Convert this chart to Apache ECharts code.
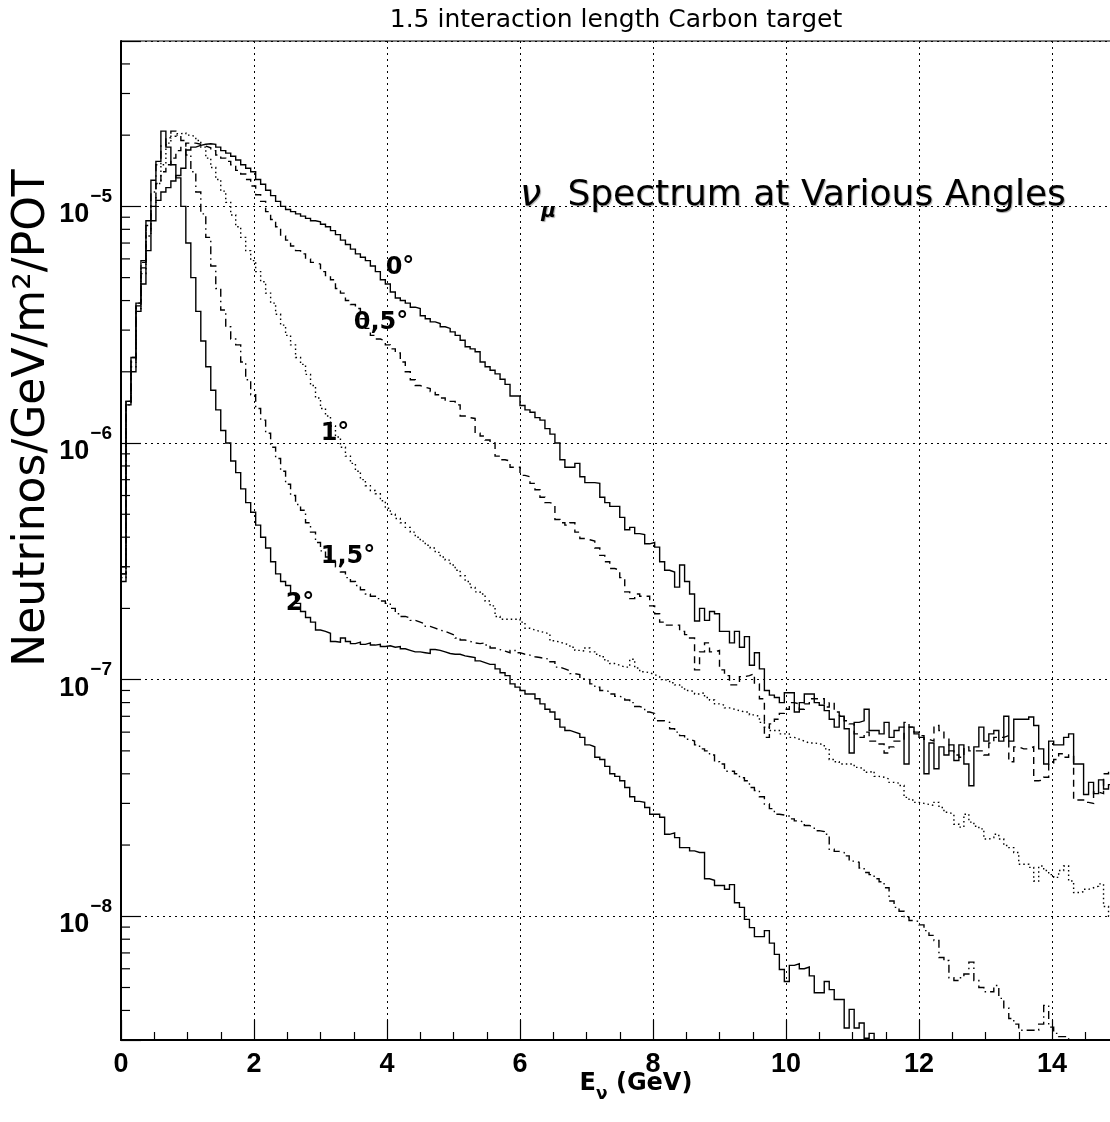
<!DOCTYPE html>
<html><head><meta charset="utf-8">
<script src="https://cdn.jsdelivr.net/npm/echarts@6/dist/echarts.min.js"></script>
<style>html,body{margin:0;padding:0;background:#fff}#c{width:1110px;height:1122px}</style>
</head><body><div id="c"></div>
<script>
// ---- binning (GeV) and axis values ----
const BIN_WIDTH = 0.075;
const X_MIN = 0, X_MAX = 16, X_TICK_INTERVAL = 2;
const Y_MIN = 3e-9, Y_MAX = 5e-5;
const MINOR_MANTISSAS = [2, 3, 4, 5, 6, 7, 8, 9];
const MINOR_DECADES = [1e-9, 1e-8, 1e-7, 1e-6, 1e-5];

const TITLE = '1.5 interaction length Carbon target';
const Y_TITLE = 'Neutrinos/GeV/m²/POT';
const ANGLE_LABELS = ['0°', '0,5°', '1°', '1,5°', '2°'];

// ---- neutrino flux per bin (Neutrinos/GeV/m^2/POT), 0.075 GeV bins ----
const flux0 = [
3.0e-7,1.45e-6,2.0e-6,3.6e-6,4.7e-6,6.5e-6,8.7e-6,1.06e-5,1.15e-5,1.2e-5,
1.28e-5,1.35e-5,1.45e-5,1.73e-5,1.78e-5,1.81e-5,1.83e-5,1.84e-5,1.83e-5,1.78e-5,
1.72e-5,1.68e-5,1.63e-5,1.57e-5,1.5e-5,1.45e-5,1.4e-5,1.3e-5,1.24e-5,1.17e-5,
1.11e-5,1.05e-5,1.0e-5,9.7e-6,9.5e-6,9.3e-6,9.1e-6,8.9e-6,8.7e-6,8.6e-6,
8.4e-6,8.2e-6,7.9e-6,7.6e-6,7.2e-6,6.9e-6,6.6e-6,6.3e-6,6.1e-6,5.9e-6,
5.6e-6,5.3e-6,4.9e-6,4.7e-6,4.35e-6,4.1e-6,4.0e-6,3.9e-6,3.75e-6,3.7e-6,
3.45e-6,3.35e-6,3.25e-6,3.2e-6,3.1e-6,3.05e-6,2.95e-6,2.85e-6,2.72e-6,2.55e-6,
2.5e-6,2.43e-6,2.2e-6,2.1e-6,2.03e-6,1.96e-6,1.86e-6,1.77e-6,1.58e-6,1.58e-6,
1.44e-6,1.38e-6,1.35e-6,1.28e-6,1.25e-6,1.15e-6,1.09e-6,1.0e-6,8.5e-7,7.9e-7,
7.9e-7,8.2e-7,7.2e-7,6.8e-7,6.8e-7,6.75e-7,5.9e-7,5.6e-7,5.4e-7,5.4e-7,
4.85e-7,4.3e-7,4.4e-7,4.14e-7,4.1e-7,3.75e-7,3.8e-7,3.63e-7,3.15e-7,2.9e-7,
2.85e-7,2.46e-7,3.05e-7,2.6e-7,2.3e-7,1.77e-7,2.0e-7,1.78e-7,1.94e-7,1.9e-7,
1.6e-7,1.6e-7,1.43e-7,1.6e-7,1.37e-7,1.52e-7,1.15e-7,1.3e-7,1.11e-7,9.0e-8,
8.6e-8,8.4e-8,8.0e-8,8.8e-8,8.8e-8,7.3e-8,8.0e-8,8.7e-8,8.7e-8,8.0e-8,
7.8e-8,7.4e-8,6.8e-8,6.3e-8,7.0e-8,6.2e-8,4.9e-8,6.6e-8,6.7e-8,7.5e-8,
6.1e-8,6.1e-8,5.9e-8,6.6e-8,5.7e-8,6.1e-8,6.3e-8,4.4e-8,6.3e-8,5.9e-8,
5.7e-8,4.0e-8,5.4e-8,4.2e-8,5.2e-8,4.8e-8,5.3e-8,4.55e-8,5.3e-8,4.4e-8,
3.56e-8,5.2e-8,6.3e-8,5.5e-8,5.9e-8,6.1e-8,5.5e-8,7.0e-8,5.5e-8,6.8e-8,
6.8e-8,6.8e-8,6.95e-8,6.4e-8,5.1e-8,4.4e-8,5.5e-8,5.3e-8,5.3e-8,5.7e-8,
5.9e-8,4.4e-8,4.4e-8,3.27e-8,3.68e-8,3.3e-8,3.77e-8,3.45e-8,3.6e-8,3.3e-8
];
const flux05 = [
2.8e-7,1.5e-6,2.2e-6,3.9e-6,5.5e-6,7.8e-6,1.0e-5,1.25e-5,1.4e-5,1.5e-5,
1.6e-5,1.72e-5,1.8e-5,1.85e-5,1.85e-5,1.83e-5,1.8e-5,1.77e-5,1.72e-5,1.65e-5,
1.6e-5,1.55e-5,1.5e-5,1.42e-5,1.37e-5,1.3e-5,1.22e-5,1.12e-5,1.05e-5,9.5e-6,
8.8e-6,8.2e-6,7.5e-6,7.2e-6,6.8e-6,6.5e-6,6.3e-6,6.0e-6,5.8e-6,5.7e-6,
5.3e-6,5.1e-6,4.9e-6,4.5e-6,4.3e-6,4.0e-6,3.85e-6,3.7e-6,3.35e-6,3.05e-6,
2.85e-6,2.75e-6,2.7e-6,2.6e-6,2.5e-6,2.4e-6,2.2e-6,2.0e-6,1.85e-6,1.75e-6,
1.72e-6,1.7e-6,1.65e-6,1.6e-6,1.55e-6,1.5e-6,1.5e-6,1.45e-6,1.3e-6,1.28e-6,
1.27e-6,1.1e-6,1.07e-6,1.03e-6,1.0e-6,8.8e-7,8.5e-7,8.4e-7,7.9e-7,7.9e-7,
7.3e-7,7.2e-7,6.75e-7,6.35e-7,5.9e-7,5.6e-7,5.5e-7,4.75e-7,4.6e-7,4.5e-7,
4.6e-7,4.2e-7,3.95e-7,3.9e-7,3.85e-7,3.6e-7,3.35e-7,3.15e-7,2.95e-7,2.9e-7,
2.7e-7,2.35e-7,2.2e-7,2.3e-7,2.25e-7,2.25e-7,2.05e-7,1.9e-7,1.75e-7,1.7e-7,
1.7e-7,1.7e-7,1.6e-7,1.55e-7,1.5e-7,1.1e-7,1.31e-7,1.43e-7,1.31e-7,1.33e-7,
1.1e-7,1.04e-7,9.5e-8,9.5e-8,1.03e-7,1.04e-7,1.06e-7,9.6e-8,8.3e-8,5.7e-8,
6.5e-8,6.8e-8,7.2e-8,7.5e-8,8.0e-8,7.9e-8,7.5e-8,7.9e-8,8.3e-8,8.3e-8,
8.3e-8,7.66e-8,8.0e-8,7.3e-8,7.06e-8,6.7e-8,6.5e-8,5.9e-8,5.7e-8,6.0e-8,
5.5e-8,5.5e-8,5.35e-8,4.9e-8,5.2e-8,5.5e-8,5.5e-8,6.6e-8,6.3e-8,6.0e-8,
5.8e-8,5.6e-8,5.5e-8,6.4e-8,6.1e-8,5.6e-8,5.0e-8,4.8e-8,4.7e-8,5.2e-8,
5.0e-8,5.0e-8,5.0e-8,4.8e-8,5.4e-8,5.7e-8,5.7e-8,5.8e-8,4.5e-8,5.2e-8,
5.1e-8,5.1e-8,5.2e-8,3.74e-8,3.77e-8,3.87e-8,4.4e-8,4.6e-8,4.86e-8,4.7e-8,
4.8e-8,3.1e-8,3.1e-8,3.03e-8,3.0e-8,3.35e-8,3.3e-8,4.0e-8,4.2e-8,4.0e-8
];
const flux1 = [
2.7e-7,1.45e-6,2.1e-6,3.7e-6,5.2e-6,7.5e-6,1.0e-5,1.25e-5,1.5e-5,1.85e-5,
1.98e-5,2.03e-5,2.04e-5,2.0e-5,1.97e-5,1.9e-5,1.78e-5,1.6e-5,1.46e-5,1.3e-5,
1.16e-5,1.04e-5,9.2e-6,8.2e-6,7.4e-6,6.5e-6,5.9e-6,5.3e-6,4.8e-6,4.3e-6,
3.9e-6,3.5e-6,3.15e-6,2.85e-6,2.6e-6,2.3e-6,2.15e-6,1.95e-6,1.75e-6,1.55e-6,
1.4e-6,1.3e-6,1.18e-6,1.06e-6,9.6e-7,8.8e-7,8.2e-7,7.6e-7,7.0e-7,6.6e-7,
6.3e-7,6.1e-7,5.7e-7,5.3e-7,5.0e-7,4.8e-7,4.6e-7,4.4e-7,4.2e-7,4.0e-7,
3.85e-7,3.7e-7,3.6e-7,3.45e-7,3.3e-7,3.2e-7,3.05e-7,2.9e-7,2.75e-7,2.6e-7,
2.45e-7,2.35e-7,2.3e-7,2.15e-7,2.05e-7,1.85e-7,1.8e-7,1.8e-7,1.8e-7,1.8e-7,
1.75e-7,1.65e-7,1.62e-7,1.6e-7,1.58e-7,1.56e-7,1.46e-7,1.44e-7,1.42e-7,1.4e-7,
1.37e-7,1.33e-7,1.32e-7,1.36e-7,1.31e-7,1.28e-7,1.25e-7,1.2e-7,1.17e-7,1.15e-7,
1.13e-7,1.13e-7,1.22e-7,1.12e-7,1.08e-7,1.07e-7,1.05e-7,1.03e-7,1.0e-7,9.9e-8,
9.7e-8,9.5e-8,9.3e-8,9.0e-8,8.9e-8,8.7e-8,8.8e-8,8.4e-8,8.2e-8,7.9e-8,
7.8e-8,7.6e-8,7.5e-8,7.4e-8,7.3e-8,7.3e-8,7.1e-8,7.0e-8,6.6e-8,6.3e-8,
6.1e-8,6.1e-8,5.9e-8,5.9e-8,5.7e-8,5.6e-8,5.5e-8,5.4e-8,5.4e-8,5.36e-8,
5.3e-8,5.1e-8,4.6e-8,4.5e-8,4.4e-8,4.4e-8,4.4e-8,4.26e-8,4.2e-8,4.06e-8,
4.1e-8,3.9e-8,3.87e-8,3.8e-8,3.68e-8,3.65e-8,3.57e-8,3.18e-8,3.1e-8,3.03e-8,
3.0e-8,2.97e-8,2.94e-8,3.03e-8,2.88e-8,2.75e-8,2.7e-8,2.45e-8,2.38e-8,2.7e-8,
2.5e-8,2.4e-8,2.34e-8,2.12e-8,2.15e-8,2.22e-8,2.12e-8,1.99e-8,1.95e-8,1.86e-8,
1.66e-8,1.66e-8,1.61e-8,1.41e-8,1.63e-8,1.56e-8,1.5e-8,1.46e-8,1.56e-8,1.63e-8,
1.41e-8,1.26e-8,1.27e-8,1.3e-8,1.32e-8,1.34e-8,1.37e-8,1.1e-8,1.0e-8,1.0e-8
];
const flux15 = [
2.8e-7,1.5e-6,2.3e-6,3.8e-6,5.8e-6,8.3e-6,1.15e-5,1.5e-5,1.8e-5,1.95e-5,
2.08e-5,2.0e-5,1.9e-5,1.65e-5,1.4e-5,1.15e-5,9.3e-6,7.4e-6,5.6e-6,4.5e-6,
3.65e-6,3.1e-6,2.75e-6,2.6e-6,2.2e-6,1.85e-6,1.6e-6,1.4e-6,1.25e-6,1.1e-6,
9.6e-7,8.6e-7,7.6e-7,6.7e-7,6.0e-7,5.5e-7,5.2e-7,4.6e-7,4.2e-7,3.8e-7,
3.5e-7,3.3e-7,3.15e-7,3.0e-7,2.85e-7,2.7e-7,2.6e-7,2.5e-7,2.4e-7,2.3e-7,
2.25e-7,2.2e-7,2.15e-7,2.1e-7,2.0e-7,1.9e-7,1.85e-7,1.82e-7,1.78e-7,1.75e-7,
1.72e-7,1.68e-7,1.65e-7,1.62e-7,1.6e-7,1.57e-7,1.54e-7,1.5e-7,1.47e-7,1.45e-7,
1.43e-7,1.42e-7,1.43e-7,1.4e-7,1.36e-7,1.34e-7,1.32e-7,1.3e-7,1.33e-7,1.3e-7,
1.28e-7,1.27e-7,1.25e-7,1.24e-7,1.23e-7,1.22e-7,1.19e-7,1.13e-7,1.11e-7,1.09e-7,
1.06e-7,1.05e-7,1.01e-7,1.0e-7,9.6e-8,9.3e-8,9.0e-8,8.9e-8,8.7e-8,8.5e-8,
8.4e-8,8.2e-8,8.0e-8,7.7e-8,7.6e-8,7.3e-8,7.2e-8,6.7e-8,6.7e-8,6.6e-8,
6.2e-8,6.0e-8,5.8e-8,5.6e-8,5.5e-8,5.3e-8,5.1e-8,5.0e-8,4.8e-8,4.5e-8,
4.4e-8,4.1e-8,4.1e-8,4.0e-8,3.85e-8,3.74e-8,3.5e-8,3.4e-8,3.2e-8,2.98e-8,
2.85e-8,2.7e-8,2.68e-8,2.65e-8,2.58e-8,2.53e-8,2.5e-8,2.42e-8,2.38e-8,2.3e-8,
2.28e-8,2.22e-8,1.92e-8,1.88e-8,1.86e-8,1.8e-8,1.71e-8,1.69e-8,1.6e-8,1.53e-8,
1.5e-8,1.44e-8,1.4e-8,1.32e-8,1.16e-8,1.09e-8,1.05e-8,9.9e-9,9.6e-9,9.5e-9,
9.2e-9,8.7e-9,8.3e-9,7.9e-9,6.7e-9,6.5e-9,5.5e-9,5.35e-9,5.5e-9,5.7e-9,
6.4e-9,5.35e-9,5.0e-9,4.8e-9,4.8e-9,5.1e-9,4.5e-9,4.1e-9,3.7e-9,3.5e-9,
3.3e-9,3.3e-9,3.3e-9,3.3e-9,3.5e-9,4.2e-9,3.4e-9,3.2e-9,3.1e-9,3.1e-9,
2.5e-9,null,null,null,null,null,null,null,null,null
];
const flux2 = [
2.6e-7,1.5e-6,2.3e-6,3.9e-6,5.9e-6,8.7e-6,1.29e-5,1.55e-5,2.08e-5,1.78e-5,
1.5e-5,1.32e-5,1.0e-5,7.0e-6,5.0e-6,3.6e-6,2.7e-6,2.1e-6,1.67e-6,1.38e-6,
1.13e-6,1.0e-6,8.4e-7,7.5e-7,6.4e-7,5.6e-7,5.1e-7,4.5e-7,4.0e-7,3.6e-7,
3.15e-7,2.8e-7,2.6e-7,2.5e-7,2.3e-7,2.1e-7,1.94e-7,1.83e-7,1.75e-7,1.62e-7,
1.6e-7,1.57e-7,1.45e-7,1.44e-7,1.5e-7,1.45e-7,1.42e-7,1.44e-7,1.41e-7,1.43e-7,
1.4e-7,1.41e-7,1.38e-7,1.39e-7,1.37e-7,1.38e-7,1.35e-7,1.33e-7,1.31e-7,1.31e-7,
1.3e-7,1.29e-7,1.34e-7,1.33e-7,1.31e-7,1.29e-7,1.28e-7,1.28e-7,1.26e-7,1.25e-7,
1.24e-7,1.2e-7,1.18e-7,1.16e-7,1.16e-7,1.11e-7,1.07e-7,1.04e-7,9.6e-8,9.3e-8,
9.0e-8,8.7e-8,8.7e-8,8.3e-8,7.9e-8,7.5e-8,7.3e-8,6.8e-8,6.3e-8,6.1e-8,
6.0e-8,5.9e-8,5.7e-8,5.3e-8,5.2e-8,4.7e-8,4.6e-8,4.3e-8,4.0e-8,3.9e-8,
3.74e-8,3.5e-8,3.2e-8,3.06e-8,3.03e-8,2.88e-8,2.7e-8,2.7e-8,2.62e-8,2.22e-8,
2.25e-8,2.15e-8,1.95e-8,1.95e-8,1.89e-8,1.86e-8,1.86e-8,1.44e-8,1.42e-8,1.35e-8,
1.35e-8,1.3e-8,1.36e-8,1.14e-8,1.09e-8,9.7e-9,8.95e-9,8.2e-9,8.2e-9,8.7e-9,
7.7e-9,6.9e-9,5.96e-9,5.3e-9,6.2e-9,6.3e-9,6.0e-9,6.1e-9,5.6e-9,4.75e-9,
4.75e-9,5.3e-9,4.9e-9,4.45e-9,4.45e-9,3.37e-9,4.04e-9,3.37e-9,3.54e-9,3.05e-9,
3.2e-9,2.0e-9,null,null,null,null,null,null,null,null,
null,null,null,null,null,null,null,null,null,null,
null,null,null,null,null,null,null,null,null,null,
null,null,null,null,null,null,null,null,null,null,
null,null,null,null,null,null,null,null,null,null
];

// ---- build step (histogram) points from bin contents ----
function histPoints(vals) {
  const pts = vals.map((v, i) => [i * BIN_WIDTH, v]);
  const lastV = vals[vals.length - 1];
  if (lastV != null) pts.push([vals.length * BIN_WIDTH, lastV]);
  return pts;
}
const minorTickVals = [];
MINOR_DECADES.forEach(d => MINOR_MANTISSAS.forEach(m => {
  const v = m * d; if (v > Y_MIN * 1.0001 && v < Y_MAX * 0.9999) minorTickVals.push([0, v]);
}));

const FONT = 'DejaVu Sans';
const TICK_FONT = 'Liberation Sans';
const INK = '#000';
const LW = 1.4;

function histSeries(name, vals, dash) {
  return {
    name, type: 'line', step: 'end', data: histPoints(vals), symbol: 'none',
    connectNulls: false, clip: true, animation: false, silent: true,
    lineStyle: { color: INK, width: LW, type: dash, cap: 'butt', join: 'miter' }
  };
}

const chart = echarts.init(document.getElementById('c'), null, { renderer: 'canvas' });
chart.setOption({
  backgroundColor: '#fff',
  animation: false,
  grid: { left: 121, top: 41, width: 66.5 * (X_MAX - X_MIN), height: 999, show: true,
          borderColor: INK, borderWidth: 1, containLabel: false, outerBoundsMode: 'none' },
  xAxis: {
    type: 'value', min: X_MIN, max: X_MAX, interval: X_TICK_INTERVAL,
    axisLine: { show: true, onZero: false, lineStyle: { color: INK, width: 2 } },
    axisTick: { show: true, inside: true, length: 20, lineStyle: { color: INK, width: 1.2 } },
    minorTick: { show: true, splitNumber: 4, length: 8, lineStyle: { color: INK, width: 1.2 } },
    axisLabel: { color: INK, fontFamily: TICK_FONT, fontSize: 27, fontWeight: 'bold', margin: 11, showMaxLabel: false,
      formatter: v => (v >= X_MAX ? '' : String(v)) },
    splitLine: { show: true, lineStyle: { color: INK, width: 1, type: [2, 4] } }
  },
  yAxis: {
    type: 'log', logBase: 10, min: Y_MIN, max: Y_MAX,
    axisLine: { show: true, lineStyle: { color: INK, width: 2 } },
    axisTick: { show: true, inside: true, length: 20, lineStyle: { color: INK, width: 1.2 } },
    axisLabel: {
      color: INK, margin: 9,
      formatter: v => {
        const l = Math.log10(v), e = Math.round(l);
        if (Math.abs(l - e) > 1e-6) return '';
        return '{b|10}{e|\u2212' + (-e) + '}';
      },
      rich: {
        b: { fontFamily: TICK_FONT, fontSize: 27, fontWeight: 'bold', color: INK, verticalAlign: 'bottom', lineHeight: 44 },
        e: { fontFamily: TICK_FONT, fontSize: 19, fontWeight: 'bold', color: INK, verticalAlign: 'bottom', lineHeight: 20, padding: [0, 0, 22, 1] }
      }
    },
    splitLine: { show: true, lineStyle: { color: INK, width: 1, type: [2, 4] } }
  },
  series: [
    histSeries('0°', flux0, 'solid'),
    histSeries('0.5°', flux05, [7, 5]),
    histSeries('1°', flux1, [1.5, 3]),
    histSeries('1.5°', flux15, [8, 4, 1.5, 4]),
    histSeries('2°', flux2, 'solid'),
    {
      type: 'custom', silent: true, clip: false, z: 5, animation: false,
      data: minorTickVals, encode: { x: 0, y: 1 },
      renderItem: (params, api) => {
        const p = api.coord([api.value(0), api.value(1)]);
        return { type: 'line', shape: { x1: p[0], y1: p[1], x2: p[0] + 9, y2: p[1] },
          style: { stroke: INK, lineWidth: 1.2 } };
      }
    }
  ],
  graphic: [
    { type: 'text', x: 616, y: 20, silent: true,
      style: { text: TITLE, fontFamily: FONT, fontSize: 25, fill: INK, align: 'center', verticalAlign: 'middle' } },
    { type: 'text', x: 33, y: 418, rotation: Math.PI / 2, silent: true,
      style: { text: Y_TITLE, fontFamily: FONT, fontSize: 44, fontWeight: 'normal', fill: INK, align: 'center', verticalAlign: 'middle' } },
    { type: 'text', x: 636, y: 1088, silent: true,
      style: { text: '{e|E}{s|\u03bd}{e| (GeV)}', align: 'center', verticalAlign: 'middle',
        rich: { e: { fontFamily: FONT, fontSize: 24, fontWeight: 'bold', color: INK, verticalAlign: 'bottom', lineHeight: 30, padding: [0, 0, 7, 0] },
                s: { fontFamily: FONT, fontSize: 17, fontWeight: 'bold', color: INK, verticalAlign: 'bottom', lineHeight: 20 } } } },
    { type: 'text', x: 520, y: 200, silent: true,
      style: { text: '{n|\u03bd}{m|\u03bc}{t| Spectrum at Various Angles}', align: 'left', verticalAlign: 'middle',
        textShadowColor: 'rgba(0,0,0,0.35)', textShadowOffsetX: 1, textShadowOffsetY: 1, textShadowBlur: 1,
        rich: { n: { fontFamily: FONT, fontStyle: 'italic', fontSize: 38, color: '#222', verticalAlign: 'bottom', lineHeight: 44, padding: [0, 0, 8, 0] },
                m: { fontFamily: FONT, fontStyle: 'italic', fontWeight: 'bold', fontSize: 20, color: '#222', verticalAlign: 'bottom', lineHeight: 24 },
                t: { fontFamily: FONT, fontSize: 36, color: '#222', verticalAlign: 'bottom', lineHeight: 44, padding: [0, 0, 8, 0] } } } },
    { type: 'text', x: 400, y: 268, silent: true, style: { text: ANGLE_LABELS[0], fontFamily: FONT, fontSize: 24, fontWeight: 'bold', fill: INK, align: 'center', verticalAlign: 'middle' } },
    { type: 'text', x: 381, y: 323, silent: true, style: { text: ANGLE_LABELS[1], fontFamily: FONT, fontSize: 24, fontWeight: 'bold', fill: INK, align: 'center', verticalAlign: 'middle' } },
    { type: 'text', x: 335, y: 434, silent: true, style: { text: ANGLE_LABELS[2], fontFamily: FONT, fontSize: 24, fontWeight: 'bold', fill: INK, align: 'center', verticalAlign: 'middle' } },
    { type: 'text', x: 348, y: 557, silent: true, style: { text: ANGLE_LABELS[3], fontFamily: FONT, fontSize: 24, fontWeight: 'bold', fill: INK, align: 'center', verticalAlign: 'middle' } },
    { type: 'text', x: 300, y: 604, silent: true, style: { text: ANGLE_LABELS[4], fontFamily: FONT, fontSize: 24, fontWeight: 'bold', fill: INK, align: 'center', verticalAlign: 'middle' } }
  ]
});
</script>
</body></html>
